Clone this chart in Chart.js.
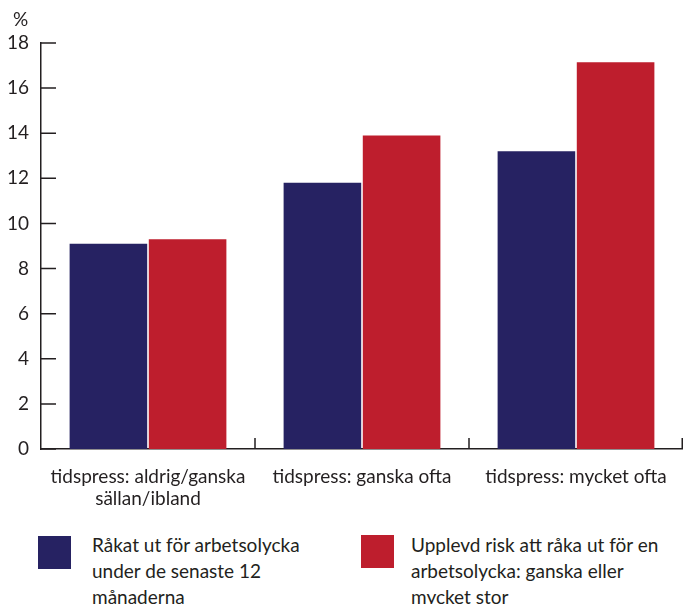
<!DOCTYPE html>
<html><head><meta charset="utf-8">
<script src="https://cdn.jsdelivr.net/npm/chart.js@4/dist/chart.umd.min.js"></script>
<style>
html,body{margin:0;padding:0;background:#fff;}
#wrap{position:relative;width:683px;height:604px;overflow:hidden;font-family:Lato,"Open Sans",sans-serif;color:#231f20;}
#c{position:absolute;left:0;top:0;}
#unit{position:absolute;left:13px;top:7px;font-size:19px;}
.sw{position:absolute;width:33px;height:33px;}
.lt{position:absolute;font-size:19px;line-height:26px;white-space:nowrap;}
</style></head>
<body><div id="wrap">
<canvas id="c" width="683" height="520"></canvas>
<div id="unit">%</div>
<div id="legend"></div>
</div>
<script>
const categories = [["tidspress: aldrig/ganska","sällan/ibland"],"tidspress: ganska ofta","tidspress: mycket ofta"];
const seriesNames = [["Råkat ut för arbetsolycka","under de senaste 12","månaderna"],["Upplevd risk att råka ut för en","arbetsolycka: ganska eller","mycket stor"]];
const accidents = [9.1, 11.8, 13.2];
const perceivedRisk = [9.3, 13.9, 17.15];
const yTicks = [0,2,4,6,8,10,12,14,16,18];
const colors = ["#262262","#be1e2d"];

const ink = "#231f20";
const tickMarks = {
  id:"tickMarks",
  afterDraw(chart){
    const {ctx, chartArea:a, scales:{x,y}} = chart;
    ctx.save(); ctx.strokeStyle = ink; ctx.lineWidth = 1.5; ctx.beginPath();
    y.ticks.forEach((t,i)=>{ const py = y.getPixelForTick(i); ctx.moveTo(a.left, py); ctx.lineTo(a.left+15, py); });
    const n = x.ticks.length;
    for(let i=0;i<n;i++){
      const px = i<n-1 ? (x.getPixelForTick(i)+x.getPixelForTick(i+1))/2 : a.right-0.75;
      ctx.moveTo(px, a.bottom); ctx.lineTo(px, a.bottom-11);
    }
    ctx.stroke(); ctx.restore();
  }
};

new Chart(document.getElementById("c"), {
  type:"bar",
  data:{ labels:categories, datasets:[
    {label:seriesNames[0].join(" "), data:accidents, backgroundColor:colors[0]},
    {label:seriesNames[1].join(" "), data:perceivedRisk, backgroundColor:colors[1]}
  ]},
  options:{
    responsive:false, animation:false, devicePixelRatio:1,
    layout:{padding:{top:43,right:0,left:0,bottom:0}},
    datasets:{bar:{categoryPercentage:0.74, barPercentage:0.98}},
    plugins:{legend:{display:false}, tooltip:{enabled:false}},
    scales:{
      x:{
        grid:{display:false, drawTicks:false},
        border:{display:true, color:ink, width:1.5},
        ticks:{padding:16, color:ink, font:{family:"Lato", size:19, lineHeight:1.2}, maxRotation:0, autoSkip:false},
        afterFit(s){ s.height = 71; }
      },
      y:{
        min:0, max:18,
        afterBuildTicks(s){ s.ticks = yTicks.map(v=>({value:v})); },
        grid:{display:false, drawTicks:false},
        border:{display:true, color:ink, width:1.5},
        ticks:{padding:12, color:ink, font:{family:"Lato", size:19}},
        afterFit(s){ s.width = 41; }
      }
    }
  },
  plugins:[tickMarks]
});

const legendPos = [{sx:38, sy:536, tx:92},{sx:361, sy:535, tx:411}];
const lg = document.getElementById("legend");
seriesNames.forEach((lines,i)=>{
  const p = legendPos[i];
  const sw = document.createElement("div"); sw.className="sw";
  sw.style.left=p.sx+"px"; sw.style.top=p.sy+"px"; sw.style.background=colors[i];
  const t = document.createElement("div"); t.className="lt";
  t.style.left=p.tx+"px"; t.style.top="532px";
  t.innerHTML = lines.join("<br>");
  lg.appendChild(sw); lg.appendChild(t);
});
</script>
</body></html>
